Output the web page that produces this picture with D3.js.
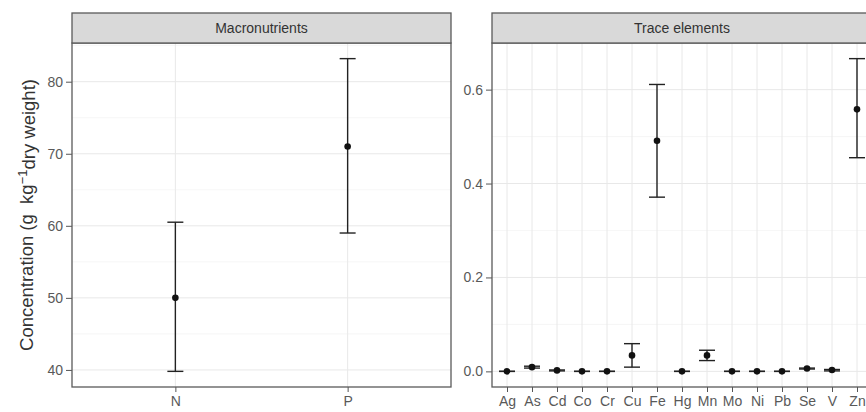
<!DOCTYPE html>
<html>
<head>
    <title>Concentration chart</title>
    <script src="https://d3js.org/d3.v7.min.js"></script>
    <style>
        body { margin: 0; background: #fff; }
        svg { font-family: "Liberation Sans", Arial, sans-serif; }
    </style>
</head>
<body>
    <div id="container"></div>

    <script>
        // macronutrients (g/kg)
        var macroCats = ["N", "P"];
        var macroMean = [50, 71];
        var macroLower = [39.8, 59];
        var macroUpper = [60.5, 83.2];
        var macroTicks = [40, 50, 60, 70, 80];
        var macroMinor = [45, 55, 65, 75, 85];

        // trace elements
        var traceCats = ["Ag", "As", "Cd", "Co", "Cr", "Cu", "Fe", "Hg", "Mn", "Mo", "Ni", "Pb", "Se", "V", "Zn"];
        var traceMean = [0, 0.009, 0.002, 0, 0, 0.034, 0.491, 0, 0.034, 0, 0, 0, 0.006, 0.003, 0.558];
        var traceLower = [0, 0.007, 0.001, 0, 0, 0.009, 0.371, 0, 0.023, 0, 0, 0, 0.005, 0.001, 0.455];
        var traceUpper = [0, 0.011, 0.003, 0, 0, 0.059, 0.611, 0, 0.045, 0, 0, 0, 0.007, 0.004, 0.666];
        var traceTicks = [0, 0.2, 0.4, 0.6];
        var traceMinor = [0.1, 0.3, 0.5];

        var width = 866, height = 412;
        var svg = d3.select("#container").append("svg")
            .attr("width", width)
            .attr("height", height);

        var stripTop = 13, plotTop = 43, plotBottom = 387;
        var tickFont = "14px";

        function drawPanel(o) {
            var g = svg.append("g");
            // ggplot style discrete expansion of 0.6 on each side
            var x = d3.scalePoint().domain(o.cats)
                .range([o.left, o.right]).padding(0.6);
            var lo = d3.min(o.lower), hi = d3.max(o.upper);
            var pad = (hi - lo) * 0.05;
            var y = d3.scaleLinear().domain([lo - pad, hi + pad])
                .range([plotBottom, plotTop]);

            // grid
            g.selectAll(".minor").data(o.minor.filter(function(d) { return y(d) >= plotTop; }))
                .enter().append("line")
                .attr("x1", o.left).attr("x2", o.right)
                .attr("y1", function(d) { return y(d); })
                .attr("y2", function(d) { return y(d); })
                .attr("stroke", "#f2f2f2").attr("stroke-width", 0.7);
            g.selectAll(".major").data(o.ticks)
                .enter().append("line")
                .attr("x1", o.left).attr("x2", o.right)
                .attr("y1", function(d) { return y(d); })
                .attr("y2", function(d) { return y(d); })
                .attr("stroke", "#e8e8e8").attr("stroke-width", 1);
            g.selectAll(".vgrid").data(o.cats)
                .enter().append("line")
                .attr("x1", function(d) { return x(d); })
                .attr("x2", function(d) { return x(d); })
                .attr("y1", plotTop).attr("y2", plotBottom)
                .attr("stroke", "#e8e8e8").attr("stroke-width", 1);

            // error bars
            var hw = 8;
            var bars = g.selectAll(".bar").data(o.cats).enter().append("g");
            bars.append("line")
                .attr("x1", function(d) { return x(d); })
                .attr("x2", function(d) { return x(d); })
                .attr("y1", function(d, i) { return y(o.lower[i]); })
                .attr("y2", function(d, i) { return y(o.upper[i]); });
            bars.append("line")
                .attr("x1", function(d) { return x(d) - hw; })
                .attr("x2", function(d) { return x(d) + hw; })
                .attr("y1", function(d, i) { return y(o.lower[i]); })
                .attr("y2", function(d, i) { return y(o.lower[i]); });
            bars.append("line")
                .attr("x1", function(d) { return x(d) - hw; })
                .attr("x2", function(d) { return x(d) + hw; })
                .attr("y1", function(d, i) { return y(o.upper[i]); })
                .attr("y2", function(d, i) { return y(o.upper[i]); });
            bars.selectAll("line").attr("stroke", "#222").attr("stroke-width", 1.4);
            bars.append("circle")
                .attr("cx", function(d) { return x(d); })
                .attr("cy", function(d, i) { return y(o.mean[i]); })
                .attr("r", 3.3)
                .attr("fill", "#111");

            // axes
            var yAxis = d3.axisLeft(y).tickValues(o.ticks).tickSize(6).tickPadding(3)
                .tickFormat(o.fmt);
            var ga = g.append("g").attr("transform", "translate(" + o.left + ",0)").call(yAxis);
            var xAxis = d3.axisBottom(x).tickSize(5).tickPadding(4);
            var gx = g.append("g").attr("transform", "translate(0," + plotBottom + ")").call(xAxis);
            [ga, gx].forEach(function(a) {
                a.select(".domain").remove();
                a.selectAll(".tick line").attr("stroke", "#555").attr("stroke-width", 1);
                a.selectAll(".tick text").attr("fill", "#595959")
                    .style("font-size", tickFont)
                    .style("font-family", "'Liberation Sans', Arial, sans-serif");
            });

            // panel border
            g.append("rect")
                .attr("x", o.left).attr("y", plotTop)
                .attr("width", o.right - o.left).attr("height", plotBottom - plotTop)
                .attr("fill", "none").attr("stroke", "#5a5a5a").attr("stroke-width", 1.3);

            // strip
            g.append("rect")
                .attr("x", o.left).attr("y", stripTop)
                .attr("width", o.right - o.left).attr("height", plotTop - stripTop)
                .attr("fill", "#d9d9d9").attr("stroke", "#5a5a5a").attr("stroke-width", 1.3);
            g.append("text")
                .attr("x", (o.left + o.right) / 2).attr("y", (stripTop + plotTop) / 2)
                .attr("dy", "0.35em").attr("text-anchor", "middle")
                .attr("fill", "#333").style("font-size", "14px")
                .text(o.title);
        }

        drawPanel({
            cats: macroCats, mean: macroMean, lower: macroLower, upper: macroUpper,
            ticks: macroTicks, minor: macroMinor, fmt: d3.format("d"),
            left: 72, right: 451, title: "Macronutrients"
        });

        drawPanel({
            cats: traceCats, mean: traceMean, lower: traceLower, upper: traceUpper,
            ticks: traceTicks, minor: traceMinor, fmt: d3.format(".1f"),
            left: 492, right: 872, title: "Trace elements"
        });

        // y axis title with superscript
        var ttl = svg.append("text")
            .attr("transform", "translate(33," + ((plotTop + plotBottom) / 2) + ") rotate(-90)")
            .attr("text-anchor", "middle")
            .attr("fill", "#333")
            .style("font-size", "18.5px");
        ttl.append("tspan").text("Concentration (g\u00a0\u00a0kg");
        ttl.append("tspan").attr("dy", "-0.45em").style("font-size", "13px").text("\u22121");
        ttl.append("tspan").attr("dy", "0.45em").text("dry weight)");
    </script>
</body>
</html>
